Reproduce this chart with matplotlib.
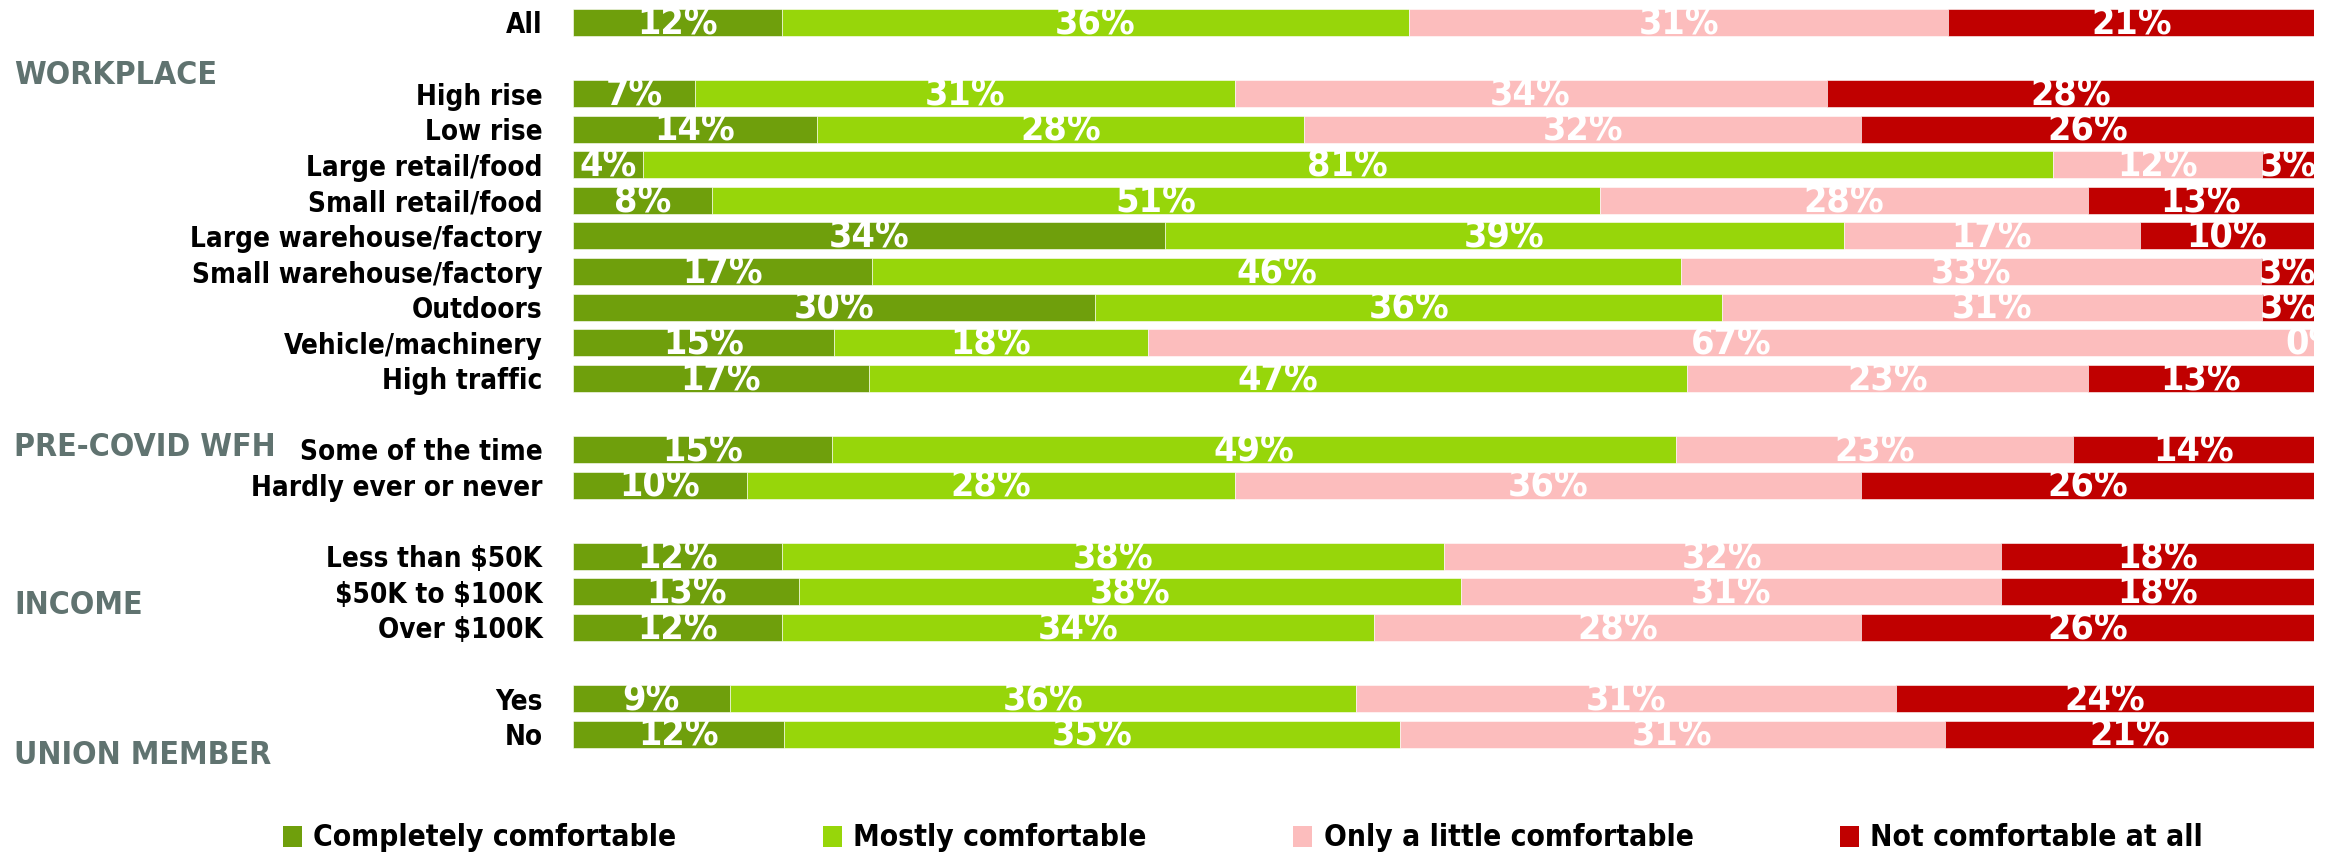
import matplotlib
matplotlib.use("Agg")
import matplotlib.pyplot as plt
from matplotlib.patches import Patch
import numpy as np

# rows in display order, None marks an empty spacer row
rows = [
    "All", None,
    "High rise", "Low rise", "Large retail/food", "Small retail/food",
    "Large warehouse/factory", "Small warehouse/factory", "Outdoors",
    "Vehicle/machinery", "High traffic", None,
    "Some of the time", "Hardly ever or never", None,
    "Less than \\$50K", "\\$50K to \\$100K", "Over \\$100K", None,
    "Yes", "No",
]

completely = [12, 7, 14, 4, 8, 34, 17, 30, 15, 17, 15, 10, 12, 13, 12, 9, 12]
mostly = [36, 31, 28, 81, 51, 39, 46, 36, 18, 47, 49, 28, 38, 38, 34, 36, 35]
little = [31, 34, 32, 12, 28, 17, 33, 31, 67, 23, 23, 36, 32, 31, 28, 31, 31]
not_at_all = [21, 28, 26, 3, 13, 10, 3, 3, 0, 13, 14, 26, 18, 18, 26, 24, 21]

series_names = ["Completely comfortable", "Mostly comfortable",
                "Only a little comfortable", "Not comfortable at all"]
colors = ["#6f9f0c", "#97d60a", "#fcbdbd", "#c00000"]

groups = ["WORKPLACE", "PRE-COVID WFH", "INCOME", "UNION MEMBER"]
group_y = [75, 447, 606, 756]  # pixel rows of the group headings

font = dict(family="DejaVu Sans", stretch="condensed", weight="bold")

fig = plt.figure(figsize=(23.39, 8.57), dpi=100)
ax = fig.add_axes([573 / 2339, 1 - 752 / 857, (2314 - 573) / 2339, (752 - 4.6) / 857])

ypos = [i for i, r in enumerate(rows) if r is not None]
labels = [r for r in rows if r is not None]

data = np.array([completely, mostly, little, not_at_all], dtype=float)
totals = data.sum(axis=0)
widths = data / totals * 100

left = np.zeros(len(ypos))
for k in range(4):
    ax.barh(ypos, widths[k], left=left, height=0.76, color=colors[k],
            edgecolor="white", linewidth=0.4)
    for y, l, w, v in zip(ypos, left, widths[k], data[k]):
        ax.text(l + w / 2, y + 0.05, f"{v:.0f}%", ha="center", va="center",
                color="white", fontsize=27, clip_on=True, **font)
    left = left + widths[k]

ax.set_xlim(0, 100)
ax.set_ylim(len(rows) - 0.5, -0.5)
ax.set_yticks(ypos)
ax.set_yticklabels(labels, fontsize=20, **font)
ax.tick_params(axis="y", length=0, pad=22)
ax.set_xticks([])
for s in ax.spines.values():
    s.set_visible(False)

for g, py in zip(groups, group_y):
    fig.text(14 / 2339, 1 - py / 857, g, ha="left", va="center",
             color="#607370", fontsize=23, **font)

handles = [Patch(facecolor=c, edgecolor="none") for c in colors]
fig.legend(handles, series_names, loc="center left",
           bbox_to_anchor=(283 / 2339, 1 - 838 / 857), ncol=4, frameon=False,
           borderpad=0, borderaxespad=0, handlelength=0.65, handleheight=0.7,
           handletextpad=0.37, columnspacing=4.9,
           prop=dict(size=21.5, **font))

fig.savefig("out.png", dpi=100)
